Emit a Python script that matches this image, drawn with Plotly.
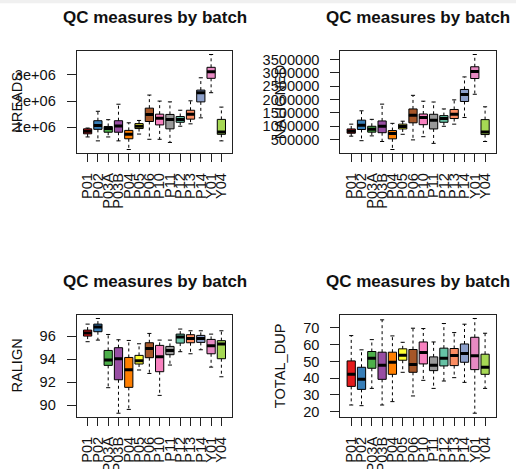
import plotly.graph_objects as go

# ---- batches and box colours -------------------------------------------
batches = ["P01", "P02", "P03A", "P03B", "P04", "P05", "P06",
           "P10", "P11", "P12", "P13", "P14", "Y01", "Y04"]
box_colors = ["#E41A1C", "#377EB8", "#4DAF4A", "#984EA3", "#FF7F00",
              "#FFFF33", "#A65628", "#F781BF", "#999999", "#66C2A5",
              "#FC8D62", "#8DA0CB", "#E78AC3", "#A6D854"]

# ---- NREADS: five-number summaries per batch ---------------------------
nreads_low = [0.63e6, 0.48e6, 0.63e6, 0.48e6, 0.15e6, 0.74e6, 0.54e6,
              0.54e6, 0.42e6, 1.04e6, 1.13e6, 1.36e6, 2.32e6, 0.48e6]
nreads_q1 = [0.75e6, 0.92e6, 0.81e6, 0.81e6, 0.56e6, 0.95e6, 1.22e6,
             1.09e6, 0.94e6, 1.19e6, 1.31e6, 1.97e6, 2.87e6, 0.73e6]
nreads_med = [0.85e6, 1.07e6, 0.95e6, 1.05e6, 0.73e6, 1.04e6, 1.49e6,
              1.34e6, 1.30e6, 1.30e6, 1.50e6, 2.32e6, 3.12e6, 0.82e6]
nreads_q3 = [0.94e6, 1.25e6, 1.03e6, 1.25e6, 0.88e6, 1.14e6, 1.73e6,
             1.50e6, 1.49e6, 1.41e6, 1.65e6, 2.42e6, 3.29e6, 1.30e6]
nreads_up = [0.97e6, 1.61e6, 1.29e6, 1.88e6, 1.17e6, 1.26e6, 2.23e6,
             2.00e6, 1.97e6, 1.65e6, 2.01e6, 2.89e6, 3.78e6, 1.77e6]

# ---- NALIGNED ----------------------------------------------------------
naligned_low = [630000, 460000, 640000, 430000, 130000, 700000, 490000,
                610000, 360000, 1000000, 1080000, 1330000, 2200000, 430000]
naligned_q1 = [740000, 880000, 780000, 760000, 530000, 900000, 1130000,
               1060000, 900000, 1150000, 1290000, 1930000, 2790000, 690000]
naligned_med = [810000, 1040000, 890000, 1000000, 730000, 990000, 1410000,
                1330000, 1230000, 1290000, 1450000, 2190000, 3050000, 790000]
naligned_q3 = [900000, 1230000, 1000000, 1200000, 840000, 1080000, 1650000,
               1460000, 1450000, 1400000, 1630000, 2380000, 3230000, 1250000]
naligned_up = [1080000, 1580000, 1260000, 1830000, 1110000, 1190000, 2160000,
               1940000, 1910000, 1650000, 1990000, 2850000, 3690000, 1730000]

# ---- RALIGN (%) --------------------------------------------------------
ralign_low = [95.51, 95.65, 91.51, 89.29, 89.62, 93.05, 92.75,
              90.84, 93.48, 94.64, 94.46, 94.81, 93.30, 92.46]
ralign_q1 = [96.00, 96.38, 93.45, 92.20, 91.54, 93.57, 94.12,
             92.90, 94.38, 95.39, 95.42, 95.45, 94.46, 94.03]
ralign_med = [96.26, 96.78, 93.91, 94.03, 93.07, 93.86, 94.93,
              94.20, 94.75, 95.91, 95.80, 95.80, 95.16, 95.30]
ralign_q3 = [96.52, 97.04, 94.75, 94.99, 94.14, 94.32, 95.42,
             95.19, 95.10, 96.17, 96.12, 96.06, 95.71, 95.60]
ralign_up = [97.04, 97.53, 96.14, 95.68, 95.62, 95.33, 96.23,
             95.65, 95.65, 96.61, 96.46, 96.46, 96.17, 96.46]

# ---- TOTAL_DUP (%) -----------------------------------------------------
dup_low = [24.0, 23.6, 33.9, 24.0, 26.0, 43.5, 29.4,
           38.7, 33.9, 38.3, 40.3, 37.5, 19.1, 33.9]
dup_q1 = [35.1, 33.3, 45.9, 39.3, 42.3, 50.7, 43.5,
          48.5, 44.5, 47.3, 47.5, 49.5, 45.1, 42.3]
dup_med = [42.3, 39.3, 51.9, 47.7, 49.5, 53.7, 48.1,
           55.3, 47.7, 51.9, 53.5, 54.7, 53.3, 46.5]
dup_q3 = [50.3, 46.5, 55.9, 55.5, 55.5, 57.5, 57.1,
          61.6, 52.7, 57.9, 57.7, 60.4, 64.4, 54.3]
dup_up = [65.4, 56.9, 63.0, 74.8, 65.2, 61.4, 69.8,
          69.6, 61.6, 72.6, 67.2, 72.2, 75.6, 66.8]

# ---- y-axis ticks per measure -----------------------------------------
nreads_ticks = [1e6, 2e6, 3e6]
nreads_ticktext = ["1e+06", "2e+06", "3e+06"]
naligned_ticks = [500000, 1000000, 1500000, 2000000, 2500000, 3000000, 3500000]
naligned_ticktext = [str(v) for v in naligned_ticks]
ralign_ticks = [90, 92, 94, 96]
dup_ticks = [20, 30, 40, 50, 60, 70]

# ---- page geometry (pixels) -------------------------------------------
W, H = 516, 469
FONT = "Liberation Sans, Arial, sans-serif"
TICK_SIZE = 14.6

panels = [
    dict(label="NREADS", low=nreads_low, q1=nreads_q1, med=nreads_med,
         q3=nreads_q3, up=nreads_up, tv=nreads_ticks, tt=nreads_ticktext,
         box=(76.7, 50.7, 232.3, 153.3)),
    dict(label="NALIGNED", low=naligned_low, q1=naligned_q1, med=naligned_med,
         q3=naligned_q3, up=naligned_up, tv=naligned_ticks, tt=naligned_ticktext,
         box=(340.3, 50.7, 496.0, 153.3)),
    dict(label="RALIGN", low=ralign_low, q1=ralign_q1, med=ralign_med,
         q3=ralign_q3, up=ralign_up, tv=ralign_ticks,
         tt=[str(v) for v in ralign_ticks], box=(76.7, 314.7, 232.3, 417.0)),
    dict(label="TOTAL_DUP", low=dup_low, q1=dup_q1, med=dup_med,
         q3=dup_q3, up=dup_up, tv=dup_ticks,
         tt=[str(v) for v in dup_ticks], box=(340.3, 314.7, 496.0, 417.0)),
]

BOX_W = 0.8      # box width in category units
STAPLE_W = 0.4   # whisker cap width
positions = list(range(1, len(batches) + 1))

fig = go.Figure()
annotations = []

for k, p in enumerate(panels, start=1):
    xa = "x" if k == 1 else f"x{k}"
    ya = "y" if k == 1 else f"y{k}"

    # boxes (interquartile range)
    for j, b in enumerate(batches):
        fig.add_trace(go.Box(
            x=[positions[j]], q1=[p["q1"][j]], median=[p["med"][j]],
            q3=[p["q3"][j]], lowerfence=[p["q1"][j]], upperfence=[p["q3"][j]],
            width=BOX_W, whiskerwidth=0, boxpoints=False,
            fillcolor=box_colors[j], line=dict(color="black", width=1),
            name=b, showlegend=False, hoverinfo="skip",
            xaxis=xa, yaxis=ya))

    # dashed whiskers
    wx, wy = [], []
    for j in range(len(batches)):
        x0 = positions[j]
        wx += [x0, x0, None, x0, x0, None]
        wy += [p["q3"][j], p["up"][j], None, p["q1"][j], p["low"][j], None]
    fig.add_trace(go.Scatter(x=wx, y=wy, mode="lines",
                             line=dict(color="black", width=1, dash="3px,3px"),
                             showlegend=False, hoverinfo="skip",
                             xaxis=xa, yaxis=ya))

    # whisker caps
    sx, sy = [], []
    for j in range(len(batches)):
        x0 = positions[j]
        for v in (p["up"][j], p["low"][j]):
            sx += [x0 - STAPLE_W / 2, x0 + STAPLE_W / 2, None]
            sy += [v, v, None]
    fig.add_trace(go.Scatter(x=sx, y=sy, mode="lines",
                             line=dict(color="black", width=1),
                             showlegend=False, hoverinfo="skip",
                             xaxis=xa, yaxis=ya))

    # thick median bars
    mx, my = [], []
    for j in range(len(batches)):
        x0 = positions[j]
        mx += [x0 - BOX_W / 2, x0 + BOX_W / 2, None]
        my += [p["med"][j], p["med"][j], None]
    fig.add_trace(go.Scatter(x=mx, y=my, mode="lines",
                             line=dict(color="black", width=3),
                             showlegend=False, hoverinfo="skip",
                             xaxis=xa, yaxis=ya))

    # axis ranges padded 4% like base graphics
    lo, hi = min(p["low"]), max(p["up"])
    pad = 0.04 * (hi - lo)
    xpad = 0.04 * len(batches)
    left, top, right, bottom = p["box"]
    xdom = [left / W, right / W]
    ydom = [1 - bottom / H, 1 - top / H]

    axis_common = dict(showline=True, mirror=True, linecolor="#222",
                       linewidth=1, ticks="outside", tickcolor="#222",
                       tickwidth=1, showgrid=False, zeroline=False,
                       automargin=False,
                       tickfont=dict(family=FONT, size=TICK_SIZE, color="#111"))
    fig.update_layout(**{
        ("xaxis" if k == 1 else f"xaxis{k}"): dict(
            axis_common, domain=xdom, anchor=ya,
            range=[0.5 - xpad, len(batches) + 0.5 + xpad],
            tickmode="array", tickvals=positions, ticktext=batches,
            tickangle=-90, ticklen=8, ticklabelstandoff=5),
        ("yaxis" if k == 1 else f"yaxis{k}"): dict(
            axis_common, domain=ydom, anchor=xa,
            range=[lo - pad, hi + pad],
            tickmode="array", tickvals=p["tv"], ticktext=p["tt"],
            ticklen=9, ticklabelstandoff=8),
    })

    # panel title
    annotations.append(dict(
        text="QC measures by batch", xref="paper", yref="paper",
        x=(left + right) / 2 / W, y=1 - (top - 33.5) / H,
        xanchor="center", yanchor="middle", showarrow=False,
        font=dict(family=FONT, size=17, color="#111", weight="bold")))
    # y-axis label
    annotations.append(dict(
        text=p["label"], xref="paper", yref="paper",
        x=(left - 60) / W, y=1 - (top + bottom) / 2 / H,
        xanchor="center", yanchor="middle", textangle=-90, showarrow=False,
        font=dict(family=FONT, size=TICK_SIZE, color="#111")))

fig.update_layout(
    width=W, height=H, autosize=False,
    margin=dict(l=0, r=0, t=0, b=0),
    paper_bgcolor="white", plot_bgcolor="white",
    annotations=annotations,
    shapes=[dict(type="rect", xref="paper", yref="paper",
                 x0=0, x1=1, y0=1 - 3.3 / H, y1=1,
                 fillcolor="#f0f0f0", line=dict(width=0), layer="below")],
)

fig.write_html("out.html")
